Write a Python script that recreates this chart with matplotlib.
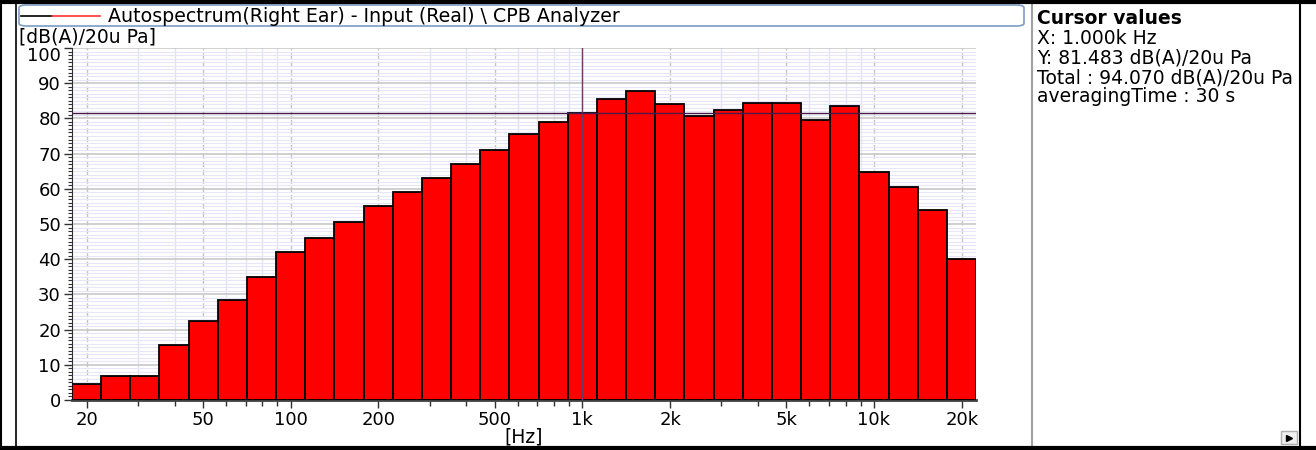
import matplotlib.pyplot as plt
import numpy as np
from matplotlib.patches import FancyBboxPatch, Rectangle
from matplotlib.lines import Line2D
from matplotlib.transforms import ScaledTranslation
from matplotlib.ticker import FixedLocator, FixedFormatter, MultipleLocator, LogLocator, NullFormatter

# Dados: bandas de terco de oitava [Hz] e niveis [dB(A)]
bandas = [20, 25, 31.5, 40, 50, 63, 80, 100, 125, 160, 200, 250, 315, 400, 500, 630, 800,
          1000, 1250, 1600, 2000, 2500, 3150, 4000, 5000, 6300, 8000, 10000, 12500, 16000, 20000]
niveis = [4.6, 6.7, 6.7, 15.5, 22.5, 28.5, 35.0, 42.0, 46.0, 50.5, 55.0, 59.0, 63.0, 67.0, 71.0, 75.5, 78.9,
          81.483, 85.4, 87.9, 84.0, 80.6, 82.4, 84.5, 84.4, 79.5, 83.4, 64.7, 60.5, 54.0, 40.0]
ticks_x = [20, 50, 100, 200, 500, 1000, 2000, 5000, 10000, 20000]
rotulos_x = ['20', '50', '100', '200', '500', '1k', '2k', '5k', '10k', '20k']
ticks_y = [0, 10, 20, 30, 40, 50, 60, 70, 80, 90, 100]
cursor_x = 1000
cursor_y = 81.483
titulo = r'Autospectrum(Right Ear) - Input (Real) \ CPB Analyzer'
cursor_txt = ['X: 1.000k Hz', 'Y: 81.483 dB(A)/20u Pa',
              'Total : 94.070 dB(A)/20u Pa', 'averagingTime : 30 s']

W, H = 1316, 450

def fx(x):
    return x / W

def fy(y):
    return 1 - y / H

plt.rcParams['font.family'] = 'DejaVu Sans'
fig = plt.figure(figsize=(W / 100, H / 100), dpi=100)

# eixo principal
ax = fig.add_axes([fx(72), fy(400), (976 - 72) / W, (400 - 48) / H])

# centros exatos e bordas das bandas
fc = 10 ** (np.round(10 * np.log10(bandas)) / 10)
esq = fc * 10 ** -0.05
larg = fc * 10 ** 0.05 - esq

ax.set_xscale('log')
ax.bar(esq, niveis, width=larg, align='edge', color='#ff0000',
       edgecolor='black', linewidth=1.3, zorder=3)

ax.set_xlim(10 ** 1.25, 10 ** 4.35)
ax.set_ylim(0, 100)

# grades
ax.xaxis.set_major_locator(FixedLocator(ticks_x))
ax.xaxis.set_major_formatter(FixedFormatter(rotulos_x))
ax.xaxis.set_minor_locator(LogLocator(base=10, subs=np.arange(2, 10)))
ax.xaxis.set_minor_formatter(NullFormatter())
ax.yaxis.set_major_locator(FixedLocator(ticks_y))
ax.yaxis.set_minor_locator(MultipleLocator(1))

ax.grid(True, which='major', axis='x', color='#c4c4c4', linestyle=(0, (4, 2)), lw=1.0, zorder=1)
ax.grid(True, which='minor', axis='x', color='#e2e2f6', linestyle='-', lw=1.0, zorder=0)
ax.grid(True, which='major', axis='y', color='#c8c8c8', linestyle='-', lw=1.2, zorder=1)
ax.grid(True, which='minor', axis='y', color='#e6e6f8', linestyle='-', lw=0.8, zorder=0)

ax.tick_params(axis='both', which='major', direction='out', length=6, width=1,
               color='#303030', labelsize=13, pad=2)
ax.tick_params(axis='y', which='minor', direction='out', length=3, width=0.8, color='#303030')
ax.tick_params(axis='x', which='minor', direction='out', length=4, width=1, color='#303030')

# rotulo "100" um pouco abaixo, como no original
rot_topo = ax.get_yticklabels()[-1]
rot_topo.set_transform(rot_topo.get_transform() + ScaledTranslation(0, -4 / 72, fig.dpi_scale_trans))

for s in ['top', 'right']:
    ax.spines[s].set_visible(False)
ax.spines['left'].set_color('#303030')
ax.spines['bottom'].set_color('#404040')
ax.spines['bottom'].set_linewidth(2)

# cursores
ax.axvline(cursor_x, color='#6a3a6a', lw=1, zorder=4)
ax.axhline(cursor_y, color='#4a1a4a', lw=1, zorder=4)

# rotulos dos eixos
fig.text(fx(19), fy(37), '[dB(A)/20u Pa]', fontsize=13.5, ha='left', va='center')
fig.text(fx(524), fy(437), '[Hz]', fontsize=13.5, ha='center', va='center')

# caixa da legenda
leg = FancyBboxPatch((fx(19), fy(26)), fx(1024 - 19), (26 - 5) / H,
                     boxstyle='round,pad=0,rounding_size=0.006',
                     transform=fig.transFigure, facecolor='white',
                     edgecolor='#7e9cc4', lw=1.2)
fig.add_artist(leg)
fig.add_artist(Line2D([fx(21), fx(52)], [fy(15.5), fy(15.5)], color='black', lw=1.2))
fig.add_artist(Line2D([fx(52), fx(100)], [fy(15.5), fy(15.5)], color='#ff3030', lw=1.2))
fig.text(fx(108), fy(16), titulo, fontsize=13.7, ha='left', va='center')

# painel de cursor
fig.text(fx(1037), fy(19), 'Cursor values', fontsize=13.5, fontweight='bold', ha='left', va='center')
for i, t in enumerate(cursor_txt):
    fig.text(fx(1037), fy(39 + 19.3 * i), t, fontsize=13.5, ha='left', va='center')

# molduras
fig.add_artist(Rectangle((fx(1301), 0), fx(W - 1301), 1, transform=fig.transFigure,
                         facecolor='white', edgecolor='none', zorder=5))
fig.add_artist(Line2D([fx(1032), fx(1032)], [fy(5), fy(446)], color='#a0a0a0', lw=1.5, zorder=6))
fig.add_artist(Line2D([fx(1300), fx(1300)], [0, 1], color='black', lw=1.5, zorder=6))
fig.add_artist(Line2D([fx(16), fx(16)], [0, 1], color='black', lw=1.2, zorder=6))
fig.add_artist(Line2D([fx(1), fx(1)], [0, 1], color='black', lw=1.5, zorder=6))
fig.add_artist(Line2D([0, 1], [fy(1.5), fy(1.5)], color='black', lw=3, zorder=6))
fig.add_artist(Line2D([0, 1], [fy(448), fy(448)], color='black', lw=3, zorder=6))

# botao de rolagem
fig.add_artist(Rectangle((fx(1281), fy(444)), fx(16), 13 / H, transform=fig.transFigure,
                         facecolor='#f0f0f0', edgecolor='#b0b0b0', lw=1, zorder=6))
fig.add_artist(Line2D([fx(1289)], [fy(437.5)], marker='>', color='black', markersize=4,
                      linestyle='none', zorder=7))

plt.savefig('out.png', dpi=100)
